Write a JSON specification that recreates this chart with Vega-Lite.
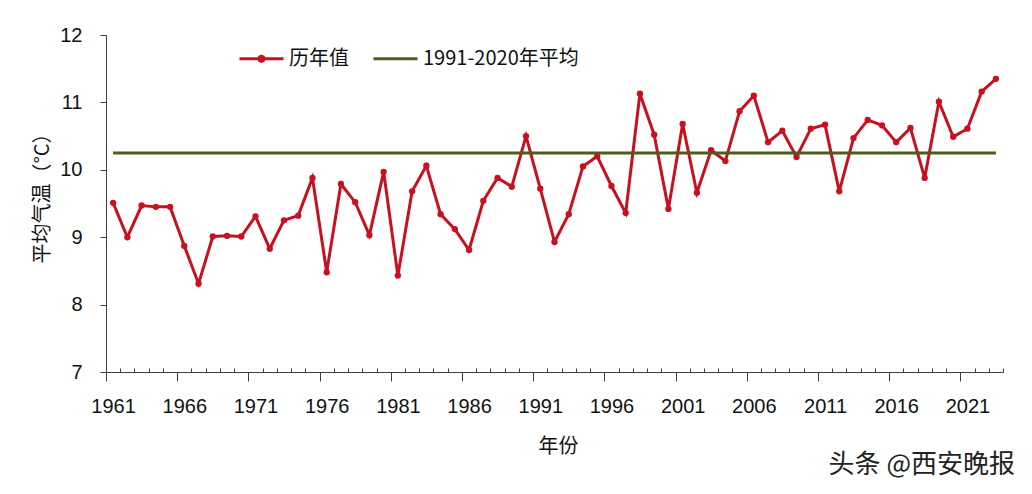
{
  "$schema": "https://vega.github.io/schema/vega-lite/v6.json",
  "width": 897,
  "height": 337,
  "autosize": {"type": "none"},
  "padding": {"left": 106, "top": 35, "right": 29, "bottom": 122},
  "background": "white",
  "config": {"view": {"stroke": null}},
  "title": {
    "text": "头条 @西安晚报",
    "orient": "bottom",
    "anchor": "end",
    "frame": "group",
    "font": "Noto Sans CJK SC",
    "fontSize": 26,
    "fontWeight": "normal",
    "color": "#222222",
    "dx": 12,
    "offset": -4
  },
  "datasets": {
    "annual": [
      {"year": 1961, "temp": 9.51}, {"year": 1962, "temp": 9.00}, {"year": 1963, "temp": 9.47},
      {"year": 1964, "temp": 9.45}, {"year": 1965, "temp": 9.45}, {"year": 1966, "temp": 8.87},
      {"year": 1967, "temp": 8.31}, {"year": 1968, "temp": 9.01}, {"year": 1969, "temp": 9.02},
      {"year": 1970, "temp": 9.01}, {"year": 1971, "temp": 9.31}, {"year": 1972, "temp": 8.83},
      {"year": 1973, "temp": 9.25}, {"year": 1974, "temp": 9.32}, {"year": 1975, "temp": 9.88},
      {"year": 1976, "temp": 8.48}, {"year": 1977, "temp": 9.79}, {"year": 1978, "temp": 9.52},
      {"year": 1979, "temp": 9.03}, {"year": 1980, "temp": 9.97}, {"year": 1981, "temp": 8.43},
      {"year": 1982, "temp": 9.68}, {"year": 1983, "temp": 10.06}, {"year": 1984, "temp": 9.34},
      {"year": 1985, "temp": 9.12}, {"year": 1986, "temp": 8.81}, {"year": 1987, "temp": 9.54},
      {"year": 1988, "temp": 9.88}, {"year": 1989, "temp": 9.75}, {"year": 1990, "temp": 10.50},
      {"year": 1991, "temp": 9.72}, {"year": 1992, "temp": 8.93}, {"year": 1993, "temp": 9.34},
      {"year": 1994, "temp": 10.05}, {"year": 1995, "temp": 10.20}, {"year": 1996, "temp": 9.76},
      {"year": 1997, "temp": 9.36}, {"year": 1998, "temp": 11.13}, {"year": 1999, "temp": 10.52},
      {"year": 2000, "temp": 9.42}, {"year": 2001, "temp": 10.68}, {"year": 2002, "temp": 9.66},
      {"year": 2003, "temp": 10.29}, {"year": 2004, "temp": 10.13}, {"year": 2005, "temp": 10.87},
      {"year": 2006, "temp": 11.10}, {"year": 2007, "temp": 10.41}, {"year": 2008, "temp": 10.58},
      {"year": 2009, "temp": 10.19}, {"year": 2010, "temp": 10.61}, {"year": 2011, "temp": 10.67},
      {"year": 2012, "temp": 9.68}, {"year": 2013, "temp": 10.47}, {"year": 2014, "temp": 10.74},
      {"year": 2015, "temp": 10.66}, {"year": 2016, "temp": 10.41}, {"year": 2017, "temp": 10.62},
      {"year": 2018, "temp": 9.88}, {"year": 2019, "temp": 11.01}, {"year": 2020, "temp": 10.49},
      {"year": 2021, "temp": 10.61}, {"year": 2022, "temp": 11.16}, {"year": 2023, "temp": 11.35}
    ],
    "mean": [
      {"start": 1961, "end": 2023, "value": 10.25, "series": "1991-2020年平均"}
    ]
  },
  "layer": [
    {
      "data": {"name": "annual"},
      "mark": {"type": "line", "strokeWidth": 3, "interpolate": "linear"},
      "encoding": {
        "x": {
          "field": "year",
          "type": "quantitative",
          "scale": {"domain": [1960.5, 2023.5], "nice": false, "zero": false},
          "axis": {
            "orient": "bottom",
            "values": [1960.5, 1961.5, 1962.5, 1963.5, 1964.5, 1965.5, 1966.5, 1967.5, 1968.5, 1969.5, 1970.5, 1971.5, 1972.5, 1973.5, 1974.5, 1975.5, 1976.5, 1977.5, 1978.5, 1979.5, 1980.5, 1981.5, 1982.5, 1983.5, 1984.5, 1985.5, 1986.5, 1987.5, 1988.5, 1989.5, 1990.5, 1991.5, 1992.5, 1993.5, 1994.5, 1995.5, 1996.5, 1997.5, 1998.5, 1999.5, 2000.5, 2001.5, 2002.5, 2003.5, 2004.5, 2005.5, 2006.5, 2007.5, 2008.5, 2009.5, 2010.5, 2011.5, 2012.5, 2013.5, 2014.5, 2015.5, 2016.5, 2017.5, 2018.5, 2019.5, 2020.5, 2021.5, 2022.5, 2023.5],
            "tickCount": 200,
            "labelExpr": "(datum.value - 1960.5) % 5 === 0 && datum.value < 2023 ? toString(datum.value + 0.5) : ''",
            "labelOffset": 7.12,
            "labelOverlap": false,
            "labelFlush": false,
            "labelBound": false,
            "labelFont": "Liberation Sans",
            "labelFontSize": 20,
            "labelColor": "#111111",
            "labelPadding": 15,
            "tickSize": {"condition": {"test": "(datum.value - 1960.5) % 5 === 0", "value": 9}, "value": -4},
            "tickColor": "#404040",
            "domainColor": "#404040",
            "grid": false,
            "title": "年份",
            "titleFont": "Noto Sans CJK SC",
            "titleFontSize": 20,
            "titleFontWeight": "normal",
            "titleColor": "#111111",
            "titleX": 452,
            "titleY": 74,
            "titleBaseline": "middle"
          }
        },
        "y": {
          "field": "temp",
          "type": "quantitative",
          "scale": {"domain": [7, 12], "nice": false, "zero": false},
          "axis": {
            "values": [7, 8, 9, 10, 11, 12],
            "format": "d",
            "tickSize": 6,
            "labelPadding": 18,
            "labelFont": "Liberation Sans",
            "labelFontSize": 20,
            "labelColor": "#111111",
            "tickColor": "#404040",
            "domainColor": "#404040",
            "grid": false,
            "title": "平均气温（°C）",
            "titleFont": "Noto Sans CJK SC",
            "titleFontSize": 20,
            "titleFontWeight": "normal",
            "titleColor": "#111111",
            "titleX": -64,
            "titleY": 158,
            "titleBaseline": "middle"
          }
        },
        "color": {
          "datum": "历年值",
          "title": null,
          "scale": {"domain": ["历年值", "1991-2020年平均"], "range": ["#c8101e", "#4f5b1e"]},
          "legend": {
            "orient": "none",
            "legendX": 132,
            "legendY": 0,
            "direction": "horizontal",
            "title": null,
            "symbolType": "stroke",
            "symbolSize": 1936,
            "symbolStrokeWidth": 3,
            "labelFont": "Noto Sans CJK SC",
            "labelFontSize": 20,
            "labelColor": "#111111",
            "labelOffset": 4,
            "columnPadding": 18,
            "encode": {
              "symbols": {
                "update": {
                  "shape": {"signal": "datum.value === '历年值' ? 'M-1,0L1,0M0.12,0L0.085,0.085L0,0.12L-0.085,0.085L-0.12,0L-0.085,-0.085L0,-0.12L0.085,-0.085Z' : 'stroke'"},
                  "fill": {"signal": "datum.value === '历年值' ? '#c8101e' : 'transparent'"}
                }
              }
            }
          }
        }
      }
    },
    {
      "data": {"name": "annual"},
      "mark": {"type": "point", "filled": true, "size": 40, "opacity": 1, "color": "#c8101e"},
      "encoding": {
        "x": {"field": "year", "type": "quantitative"},
        "y": {"field": "temp", "type": "quantitative"}
      }
    },
    {
      "data": {"name": "mean"},
      "mark": {"type": "rule", "strokeWidth": 3},
      "encoding": {
        "x": {"field": "start", "type": "quantitative"},
        "x2": {"field": "end"},
        "y": {"field": "value", "type": "quantitative"},
        "color": {"field": "series", "type": "nominal", "title": null}
      }
    }
  ]
}
